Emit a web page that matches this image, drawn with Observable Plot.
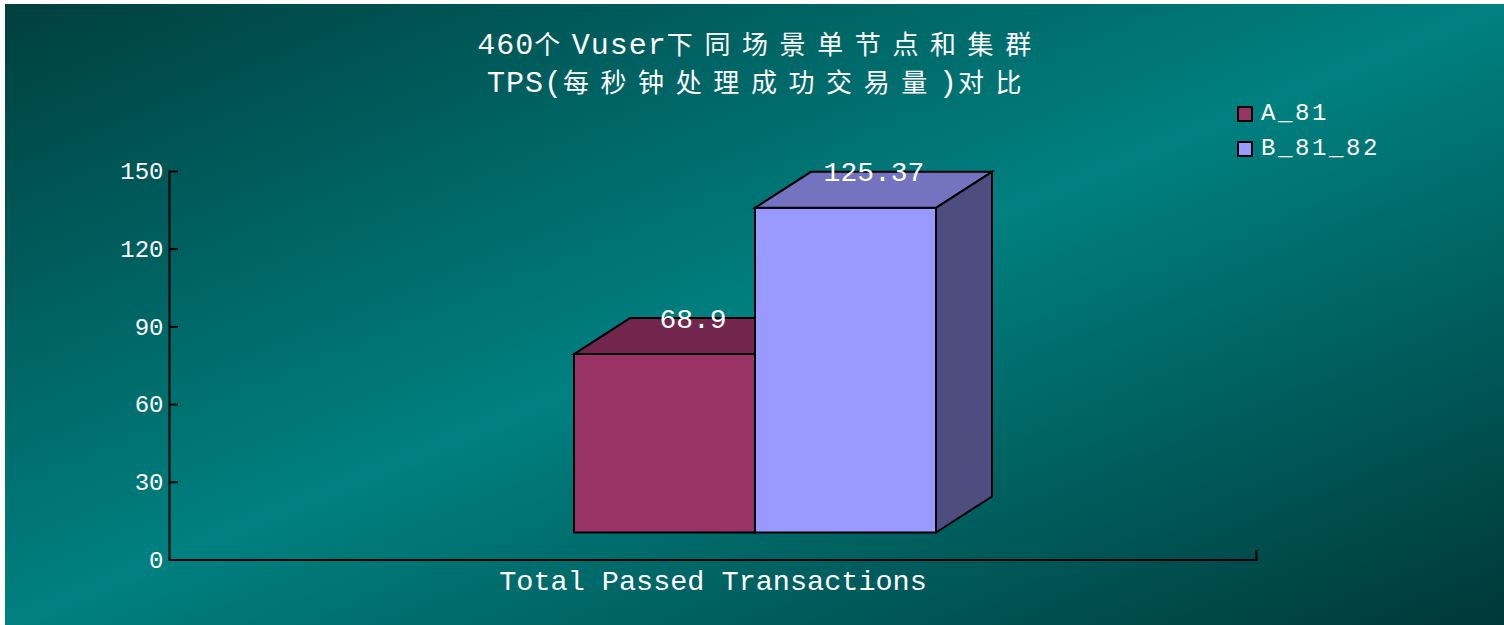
<!DOCTYPE html>
<html>
<head>
<meta charset="utf-8">
<script src="https://cdn.jsdelivr.net/npm/d3@7"></script>
<script src="https://cdn.jsdelivr.net/npm/@observablehq/plot@0.6"></script>
<style>
  html, body { margin: 0; padding: 0; background: #ffffff; }
  #chart {
    position: absolute; left: 5px; top: 4px; width: 1499px; height: 621px; overflow: hidden;
    background: linear-gradient(to bottom right, #003f3f 0%, #008080 50%, #003838 100%);
  }
  #title {
    position: absolute; left: 11px; top: 20px; width: 1488px; text-align: center;
    color: #ffffff; font-size: 26px; white-space: nowrap;
    font-family: "Liberation Mono", "Noto Sans CJK SC", monospace;
  }
  #title .line { height: 37.7px; line-height: 37.7px; overflow: visible; }
  #title .a { letter-spacing: 1px; font-size: 30px; }
  #title .c { letter-spacing: 11.6px; font-family: "Noto Sans CJK SC", sans-serif; }
  #legend {
    position: absolute; left: 1232px; top: 92px;
    font-family: "Liberation Mono", monospace; font-size: 24px; color: #ffffff;
  }
  #legend .row { display: flex; align-items: center; height: 35px; }
  #legend .sw { width: 12px; height: 12px; border: 2px solid #000000; }
  #legend .lb { margin-left: 8px; letter-spacing: 2.6px; }
  #plot { position: absolute; left: 0; top: 156px; }
</style>
</head>
<body>
<div id="chart">
  <div id="title"></div>
  <div id="legend"></div>
  <div id="plot"></div>
</div>
<script>
// ---- data ----
const titleLines = ["460个Vuser下同场景单节点和集群", "TPS(每秒钟处理成功交易量)对比"];
const categories = ["Total Passed Transactions"];
const seriesNames = ["A_81", "B_81_82"];
const seriesValues = [68.9, 125.37];
const seriesColors = ["#993366", "#9999ff"];
const yTicks = [0, 30, 60, 90, 120, 150];

// ---- layout constants ----
const W = 1499, H = 465, MT = 11, MB = 65.5, ML = 164, MR = 248;
const LIFT = -27, DX = 56, DY = -36;

const data = seriesNames.map((s, i) => ({category: categories[0], series: s, value: seriesValues[i]}));

// title
const titleEl = document.getElementById("title");
for (const line of titleLines) {
  const div = document.createElement("div");
  div.className = "line";
  for (const part of line.split(/([\x00-\x7F]+)/)) {
    if (!part) continue;
    const span = document.createElement("span");
    span.className = /^[\x00-\x7F]+$/.test(part) ? "a" : "c";
    span.textContent = part;
    div.appendChild(span);
  }
  titleEl.appendChild(div);
}

// legend
const legendEl = document.getElementById("legend");
seriesNames.forEach((s, i) => {
  const row = document.createElement("div");
  row.className = "row";
  const sw = document.createElement("div");
  sw.className = "sw";
  sw.style.background = seriesColors[i];
  const lb = document.createElement("span");
  lb.className = "lb";
  lb.textContent = s;
  row.appendChild(sw); row.appendChild(lb);
  legendEl.appendChild(row);
});

// 3D bars
const bars3d = Plot.barY(data, {
  fx: "category", x: "series", y: "value", fill: "series",
  render(index, scales, values) {
    const bw = scales.x.bandwidth();
    const g = d3.create("svg:g").attr("stroke", "#000000").attr("stroke-width", 2).attr("stroke-linejoin", "miter");
    for (const i of index) {
      const x0 = values.x[i], x1 = x0 + bw;
      const yb = Math.max(values.y1[i], values.y2[i]) + LIFT;
      const yt = Math.min(values.y1[i], values.y2[i]) + LIFT;
      const c = d3.rgb(values.fill[i]);
      const shade = k => d3.rgb(c.r * k, c.g * k, c.b * k).formatHex();
      g.append("path").attr("fill", c.formatHex())
        .attr("d", `M${x0},${yt}H${x1}V${yb}H${x0}Z`);
      g.append("path").attr("fill", shade(0.75))
        .attr("d", `M${x0},${yt}L${x0 + DX},${yt + DY}H${x1 + DX}L${x1},${yt}Z`);
      g.append("path").attr("fill", shade(0.5))
        .attr("d", `M${x1},${yt}L${x1 + DX},${yt + DY}V${yb + DY}L${x1},${yb}Z`);
    }
    return g.node();
  }
});

const chart = Plot.plot({
  width: W, height: H,
  marginTop: MT, marginBottom: MB, marginLeft: ML, marginRight: MR,
  style: {background: "transparent", fontFamily: "'Liberation Mono', monospace", overflow: "visible", color: "#ffffff"},
  fx: {domain: categories, padding: 0, label: null},
  x: {domain: seriesNames, paddingInner: 0, paddingOuter: 1.995, align: 0.558, axis: null},
  y: {domain: [0, 150], label: null},
  color: {domain: seriesNames, range: seriesColors},
  marks: [
    bars3d,
    Plot.text(data, {
      fx: "category", x: "series", y: "value", text: d => String(d.value),
      dx: DX / 2, dy: LIFT + DY, fill: "#ffffff", fontSize: 28
    }),
    Plot.frame({anchor: "left", stroke: "#000000", strokeWidth: 2}),
    Plot.frame({anchor: "bottom", stroke: "#000000", strokeWidth: 2}),
    Plot.frame({anchor: "right", stroke: "#000000", strokeWidth: 2, insetTop: H - MT - MB - 9}),
    Plot.axisY(yTicks, {anchor: "left", tickSize: -9, tickPadding: 15, stroke: "#000000", strokeWidth: 2,
      fill: "#ffffff", fontSize: 24, label: null}),
    Plot.axisFx({anchor: "bottom", tickSize: 0, tickPadding: 10, fill: "#ffffff", fontSize: 28.5, label: null})
  ]
});
document.getElementById("plot").appendChild(chart);
</script>
</body>
</html>
